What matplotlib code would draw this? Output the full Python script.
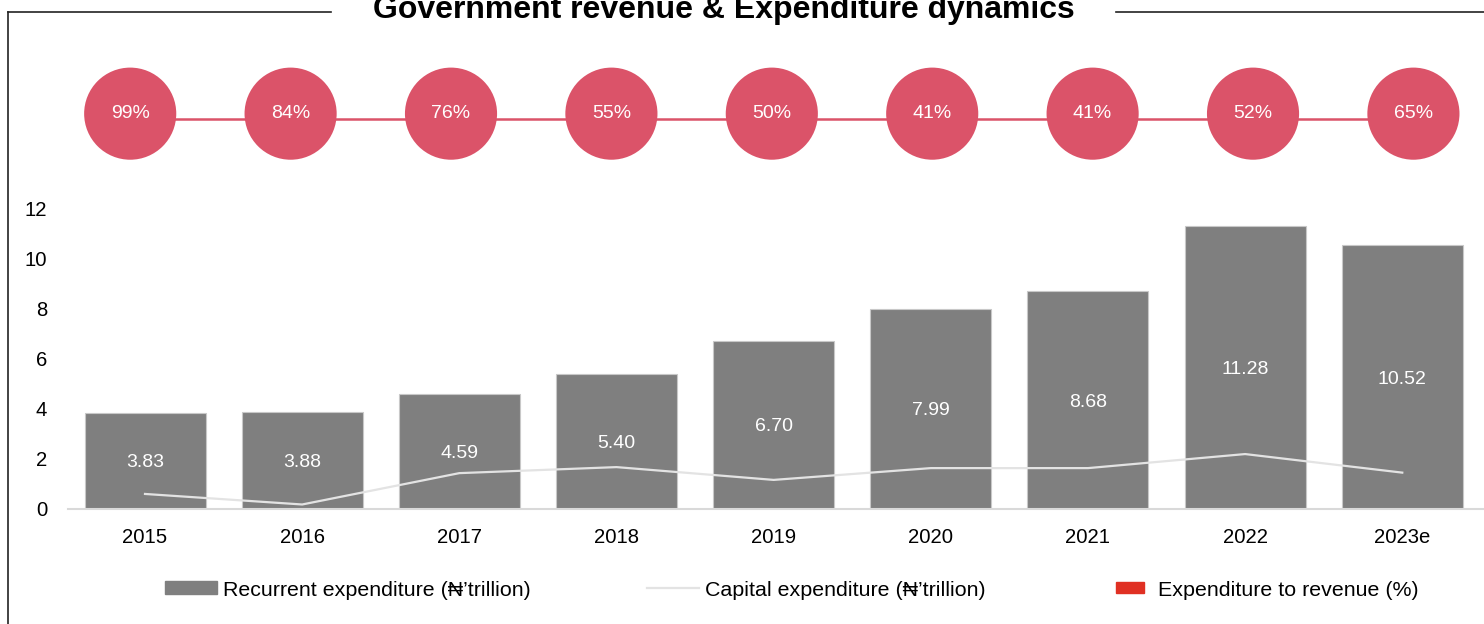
import numpy as np
import matplotlib
matplotlib.use('Agg')
import matplotlib.pyplot as plt
from matplotlib.lines import Line2D
from matplotlib.patches import Patch

plt.rcParams['font.family'] = ['Liberation Sans', 'DejaVu Sans']

# données
years = ['2015', '2016', '2017', '2018', '2019', '2020', '2021', '2022', '2023e']
recurrent = [3.83, 3.88, 4.59, 5.40, 6.70, 7.99, 8.68, 11.28, 10.52]
capital = [0.60, 0.18, 1.43, 1.67, 1.16, 1.63, 1.63, 2.19, 1.45]
exp_to_rev = [99, 84, 76, 55, 50, 41, 41, 52, 65]

bar_grey = '#7f7f7f'
pink = '#db5369'

fig = plt.figure(figsize=(14.84, 6.24), dpi=100)

# graphique principal
ax = fig.add_axes([68 / 1484, 1 - 509 / 624, 1 - 68 / 1484, (509 - 208) / 624])
x = np.arange(len(years))
bars = ax.bar(x, recurrent, width=0.77, color=bar_grey, edgecolor='#c8c8c8', linewidth=0.8, zorder=2)
for xi, v in zip(x, recurrent):
    ax.text(xi, v / 2 - 0.08, f'{v:.2f}', ha='center', va='center', color='white', fontsize=14, zorder=4)
ax.plot(x, capital, color='#e3e3e3', linewidth=1.6, zorder=3)
ax.set_ylim(0, 12)
ax.set_xlim(-0.49, 8.52)
ax.set_yticks(range(0, 13, 2))
ax.set_xticks(x)
ax.set_xticklabels(years)
ax.tick_params(axis='both', length=0, labelsize=14.6)
ax.tick_params(axis='x', pad=14)
ax.tick_params(axis='y', pad=15)
for s in ['top', 'right', 'left']:
    ax.spines[s].set_visible(False)
ax.spines['bottom'].set_color('#d9d9d9')
ax.spines['bottom'].set_linewidth(1.5)
ax.patch.set_alpha(0)

# bulles du ratio dépenses / revenus
ax2 = fig.add_axes([50 / 1484, 1 - 170 / 624, 1 - 50 / 1484, 110 / 624])
xb = np.arange(len(exp_to_rev))
ax2.plot(xb, np.zeros(len(xb)) - 0.1, color=pink, linewidth=1.8, zorder=1)
ax2.scatter(xb, np.zeros(len(xb)), s=4400, color=pink, edgecolors='none', zorder=2)
for xi, v in zip(xb, exp_to_rev):
    ax2.text(xi, 0, f'{v}%', ha='center', va='center', color='white', fontsize=14, zorder=3)
ax2.set_xlim(-0.5, 8.44)
ax2.set_ylim(-1.05, 1.0)
ax2.axis('off')

# titre et cadre
fig.text(724 / 1484, 1 - 18 / 624, 'Government revenue & Expenditure dynamics',
         ha='center', va='baseline', fontsize=23, fontweight='bold')
fr = dict(color='#222222', linewidth=1.2, transform=fig.transFigure)
fig.add_artist(Line2D([8 / 1484, 331 / 1484], [1 - 12 / 624, 1 - 12 / 624], **fr))
fig.add_artist(Line2D([1116 / 1484, 1], [1 - 12 / 624, 1 - 12 / 624], **fr))
fig.add_artist(Line2D([8 / 1484, 8 / 1484], [1 - 12 / 624, 0], **fr))

# légende
leg_items = [
    (Patch(facecolor=bar_grey, edgecolor=bar_grey), 'Recurrent expenditure (₦’trillion)', 165, 2.43, 0.56, 0.3),
    (Line2D([], [], color='#e3e3e3', linewidth=1.6), 'Capital expenditure (₦’trillion)', 647, 2.43, 0.56, 0.3),
    (Patch(facecolor='#e03023', edgecolor='#e03023'), 'Expenditure to revenue (%)', 1116, 1.3, 0.4, 0.67),
]
for h, lab, px, hl, hh, tp in leg_items:
    fig.legend([h], [lab], loc='center left', bbox_to_anchor=(px / 1484, 1 - 590 / 624),
               frameon=False, fontsize=15.4, handlelength=hl, handleheight=hh,
               handletextpad=tp, borderpad=0, borderaxespad=0)

fig.savefig('out.png', dpi=100)
